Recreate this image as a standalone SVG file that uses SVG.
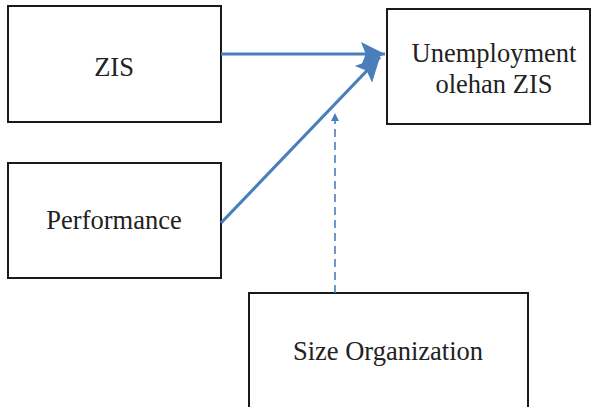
<svg xmlns="http://www.w3.org/2000/svg" width="596" height="407" viewBox="0 0 596 407">
<defs>
<style>
.box{fill:#fff;stroke:#1a1a1a;stroke-width:2}
.lbl{font-family:"Liberation Serif","Times New Roman",Times,serif;font-size:26.5px;fill:#222;text-anchor:middle}
.solid{stroke:#4a7ebb;stroke-width:3.2;fill:none}
.dash{stroke:#4a7ebb;stroke-width:1.6;fill:none;stroke-dasharray:8,5}
</style>
<marker id="big" viewBox="0 0 10 10" refX="10" refY="5" markerWidth="8.5" markerHeight="7.5" markerUnits="strokeWidth" orient="auto"><path d="M0,0 L10,5 L0,10 L2,5 z" fill="#4a7ebb"/></marker>
<marker id="small" viewBox="0 0 10 10" refX="10" refY="5" markerWidth="6" markerHeight="5" markerUnits="strokeWidth" orient="auto"><path d="M0,0 L10,5 L0,10 z" fill="#4a7ebb"/></marker>
</defs>
<g id="zis"><rect class="box" x="8" y="6" width="213" height="116"/><text class="lbl" x="114" y="76">ZIS</text></g>
<g id="performance"><rect class="box" x="8" y="163" width="213" height="115"/><text class="lbl" x="114" y="229">Performance</text></g>
<g id="unemployment"><rect class="box" x="387" y="9" width="203" height="115"/><text class="lbl" x="494" y="62">Unemployment</text><text class="lbl" x="494" y="93">olehan ZIS</text></g>
<g id="size"><rect class="box" x="249" y="293" width="279" height="120"/><text class="lbl" x="388" y="360">Size Organization</text></g>
<g id="connectors">
<line class="solid" x1="221" y1="54" x2="385" y2="54" marker-end="url(#big)"/>
<line class="solid" x1="221" y1="223" x2="380" y2="57" marker-end="url(#big)"/>
<line class="dash" x1="335" y1="293" x2="335" y2="113" marker-end="url(#small)"/>
</g>
</svg>
